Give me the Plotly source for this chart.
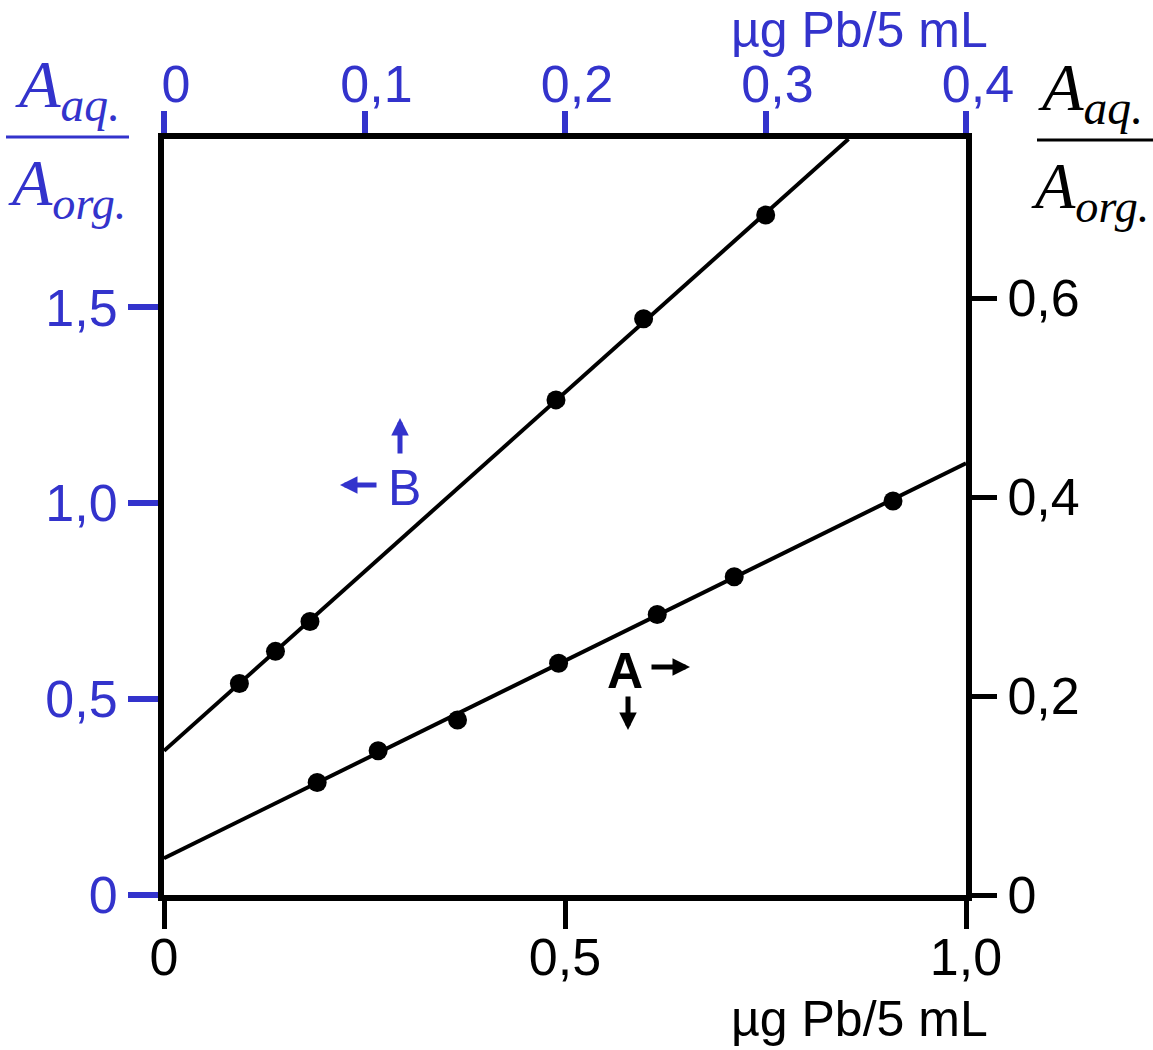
import plotly.graph_objects as go

BLUE = "#3333cc"
BLACK = "#000000"
SANS = "Liberation Sans, Arial, sans-serif"
SERIF = "Liberation Serif, Times New Roman, serif"

# Series A: lower axis (µg Pb/5 mL, 0-1.0) against the right-hand ratio axis
a_x = [0.191, 0.267, 0.366, 0.492, 0.615, 0.711, 0.909]
a_y = [0.113, 0.145, 0.176, 0.233, 0.282, 0.320, 0.396]
a_fit_x = [0.0, 1.0]
a_fit_y = [0.037, 0.434]

# Series B: upper axis (µg Pb/5 mL, 0-0.4) against the left-hand ratio axis
b_x = [0.0376, 0.0556, 0.0728, 0.1955, 0.2392, 0.3001]
b_y = [0.540, 0.622, 0.698, 1.264, 1.471, 1.736]
b_fit_x = [0.0, 0.3414]
b_fit_y = [0.368, 1.93]

bottom_ticks = [0, 0.5, 1.0]
bottom_labels = ["0", "0,5", "1,0"]
top_ticks = [0, 0.1, 0.2, 0.3, 0.4]
top_labels = ["0", "0,1", "0,2", "0,3", "0,4"]
left_ticks = [0, 0.5, 1.0, 1.5]
left_labels = ["0", "0,5", "1,0", "1,5"]
right_ticks = [0, 0.2, 0.4, 0.6]
right_labels = ["0", "0,2", "0,4", "0,6"]

axis_title = "µg Pb/5 mL"
ratio_num = "<i>A</i><sub><i>aq.</i></sub>"
ratio_den = "<i>A</i><sub><i>org.</i></sub>"

FIG_W, FIG_H = 1153, 1050
L, R, T, B = 164, 187, 139, 155
W, H = FIG_W - L - R, FIG_H - T - B


def px(x):
    return (x - L) / W


def py(y):
    return 1 - (y - T) / H


fig = go.Figure()

# series A on bottom x / right y
fig.add_trace(go.Scatter(x=a_fit_x, y=a_fit_y, xaxis="x", yaxis="y", mode="lines",
                         line=dict(color=BLACK, width=4), hoverinfo="skip"))
fig.add_trace(go.Scatter(x=a_x, y=a_y, xaxis="x", yaxis="y", mode="markers",
                         marker=dict(color=BLACK, size=19)))
# series B on top x / left y
fig.add_trace(go.Scatter(x=b_fit_x, y=b_fit_y, xaxis="x2", yaxis="y2", mode="lines",
                         line=dict(color=BLACK, width=4), hoverinfo="skip"))
fig.add_trace(go.Scatter(x=b_x, y=b_y, xaxis="x2", yaxis="y2", mode="markers",
                         marker=dict(color=BLACK, size=19)))

common = dict(showgrid=False, zeroline=False, showline=True, linecolor=BLACK,
              linewidth=6, ticks="outside", fixedrange=True)

fig.update_layout(
    width=FIG_W, height=FIG_H,
    margin=dict(l=L, r=R, t=T, b=B, pad=0),
    paper_bgcolor="white", plot_bgcolor="white",
    showlegend=False,
    xaxis=dict(range=[0, 1.0], anchor="y", side="bottom",
               tickvals=bottom_ticks, ticktext=bottom_labels,
               tickcolor=BLACK, ticklen=28, tickwidth=5, ticklabelstandoff=-16,
               tickfont=dict(family=SANS, size=52, color=BLACK), **common),
    yaxis=dict(range=[0, 0.76], anchor="x", side="right",
               tickvals=right_ticks, ticktext=right_labels,
               tickcolor=BLACK, ticklen=25, tickwidth=5,
               tickfont=dict(family=SANS, size=52, color=BLACK), **common),
    xaxis2=dict(range=[0, 0.4], anchor="y2", side="top", overlaying="x",
                tickvals=top_ticks, ticktext=top_labels,
                tickcolor=BLUE, ticklen=22, tickwidth=6, ticklabelshift=12,
                ticklabelstandoff=-12,
                tickfont=dict(family=SANS, size=52, color=BLUE), **common),
    yaxis2=dict(range=[0, 1.93], anchor="x2", side="left", overlaying="y",
                tickvals=left_ticks, ticktext=left_labels,
                tickcolor=BLUE, ticklen=30, tickwidth=6,
                tickfont=dict(family=SANS, size=52, color=BLUE), **common),
)

ann = []
# axis titles
ann.append(dict(text=axis_title, x=px(990), y=py(30), xref="paper", yref="paper",
                xanchor="right", yanchor="middle", showarrow=False,
                font=dict(family=SANS, size=50, color=BLUE)))
ann.append(dict(text=axis_title, x=px(990), y=py(1019), xref="paper", yref="paper",
                xanchor="right", yanchor="middle", showarrow=False,
                font=dict(family=SANS, size=50, color=BLACK)))

# ratio labels (left: blue, right: black)
for cx, num_y, den_y, col in [(67, 88, 187, BLUE), (1090, 91, 190, BLACK)]:
    ann.append(dict(text=ratio_num, x=px(cx), y=py(num_y), xref="paper", yref="paper",
                    xanchor="center", yanchor="middle", showarrow=False,
                    font=dict(family=SERIF, size=68, color=col)))
    ann.append(dict(text=ratio_den, x=px(cx), y=py(den_y), xref="paper", yref="paper",
                    xanchor="center", yanchor="middle", showarrow=False,
                    font=dict(family=SERIF, size=66, color=col)))

# series labels
ann.append(dict(text="B", x=px(404), y=py(488), xref="paper", yref="paper",
                xanchor="center", yanchor="middle", showarrow=False,
                font=dict(family=SANS, size=50, color=BLUE)))
ann.append(dict(text="<b>A</b>", x=px(625), y=py(671), xref="paper", yref="paper",
                xanchor="center", yanchor="middle", showarrow=False,
                font=dict(family=SANS, size=50, color=BLACK)))

# direction arrows pointing to the axis each series is read against
arrows = [
    (340, 485, 38, 0, BLUE),
    (400, 418, 0, 37, BLUE),
    (690, 667, -40, 0, BLACK),
    (628, 730, 0, -35, BLACK),
]
for tx, ty, dx, dy, col in arrows:
    ann.append(dict(text="", x=px(tx), y=py(ty), xref="paper", yref="paper",
                    ax=dx, ay=dy, showarrow=True, arrowhead=2, arrowsize=0.7,
                    arrowwidth=5, arrowcolor=col, standoff=0))

fig.update_layout(annotations=ann)

shapes = [
    dict(type="line", xref="paper", yref="paper", x0=px(6), x1=px(129),
         y0=py(137), y1=py(137), line=dict(color=BLUE, width=3)),
    dict(type="line", xref="paper", yref="paper", x0=px(1037), x1=px(1153),
         y0=py(140), y1=py(140), line=dict(color=BLACK, width=3)),
]
fig.update_layout(shapes=shapes)

fig.write_html("out.html")
